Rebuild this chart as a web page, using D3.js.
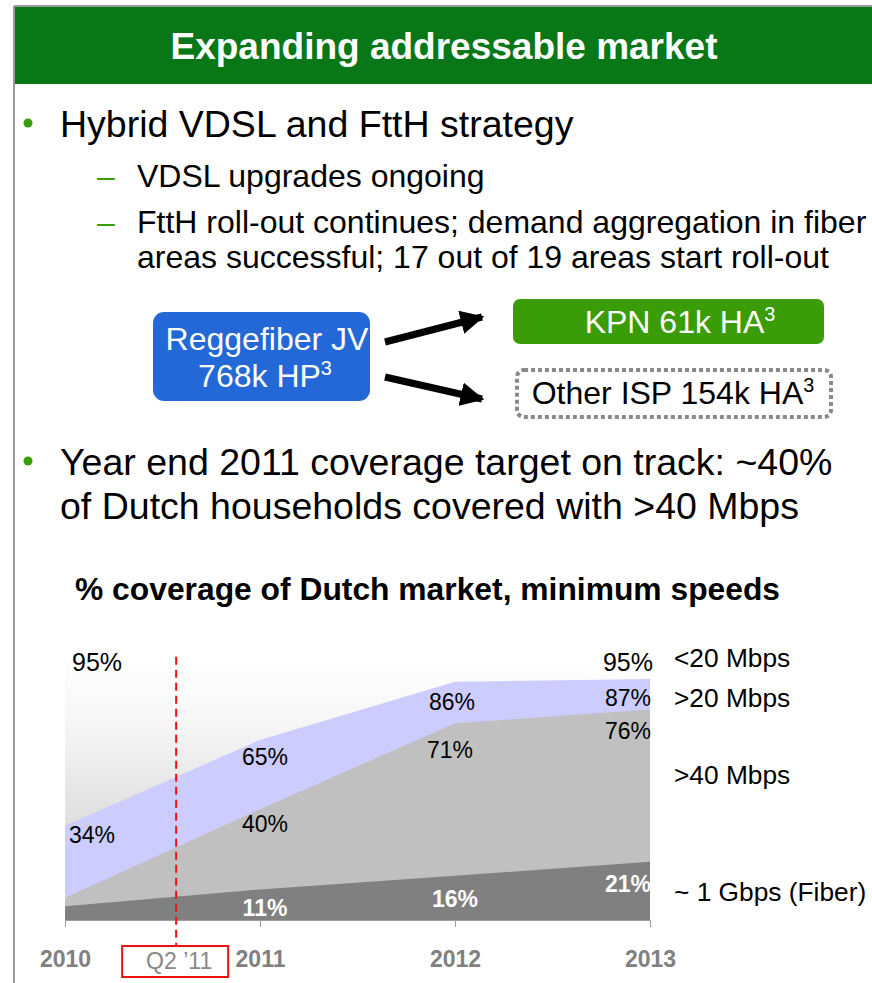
<!DOCTYPE html>
<html>
<head>
<meta charset="utf-8">
<script src="https://cdn.jsdelivr.net/npm/d3@7"></script>
<style>
  body { margin: 0; background: #fff; }
  svg { display: block; font-family: "Liberation Sans", Arial, sans-serif; }
</style>
</head>
<body>
<div id="chart"></div>
<script>
// chart data
var years = [2010, 2011, 2012, 2013];
var below20 = [95, 95, 95, 95];
var above20 = [34, 65, 86, 87];
var above40 = [8, 40, 71, 76];
var fiber = [5, 11, 16, 21];
var bandNames = ["<20 Mbps", ">20 Mbps", ">40 Mbps", "~ 1 Gbps (Fiber)"];
var yearLabels = ["2010", "2011", "2012", "2013"];
var markerYear = 2010.57;
var markerLabel = "Q2 \u201911";

var svgWidth = 872;
var svgHeight = 983;

var svg = d3.select("#chart")
  .append("svg")
  .attr("width", svgWidth)
  .attr("height", svgHeight);

var defs = svg.append("defs");

// slide frame and header
svg.append("line")
  .attr("x1", 14).attr("y1", 6).attr("x2", 14).attr("y2", svgHeight)
  .attr("stroke", "#9a9a9a").attr("stroke-width", 2);
svg.append("line")
  .attr("x1", 14).attr("y1", 6).attr("x2", svgWidth).attr("y2", 6)
  .attr("stroke", "#9a9a9a").attr("stroke-width", 2);
svg.append("rect")
  .attr("x", 15).attr("y", 7).attr("width", svgWidth - 15).attr("height", 77)
  .attr("fill", "#077718");
svg.append("text")
  .attr("x", 444).attr("y", 59)
  .attr("text-anchor", "middle")
  .attr("fill", "#fff")
  .attr("font-size", 37).attr("font-weight", "bold")
  .text("Expanding addressable market");

// bullets
var bulletGreen = "#3a9c06";
[123, 461].forEach(function(cy) {
  svg.append("circle").attr("cx", 28).attr("cy", cy).attr("r", 4.5).attr("fill", bulletGreen);
});
[187, 233].forEach(function(y) {
  svg.append("text").attr("x", 97).attr("y", y)
    .attr("font-size", 32).attr("fill", bulletGreen).text("\u2013");
});

var lines = [
  { x: 60, y: 137, size: 37.5, text: "Hybrid VDSL and FttH strategy" },
  { x: 137, y: 187, size: 32, text: "VDSL upgrades ongoing" },
  { x: 137, y: 233, size: 32, text: "FttH roll-out continues; demand aggregation in fiber" },
  { x: 137, y: 268, size: 32, text: "areas successful; 17 out of 19 areas start roll-out" },
  { x: 60, y: 475, size: 37.5, text: "Year end 2011 coverage target on track: ~40%" },
  { x: 60, y: 519, size: 37.5, text: "of Dutch households covered with >40 Mbps" }
];
svg.selectAll("text.line")
  .data(lines)
  .enter()
  .append("text")
  .attr("class", "line")
  .attr("x", d => d.x)
  .attr("y", d => d.y)
  .attr("font-size", d => d.size)
  .attr("fill", "#000")
  .text(d => d.text);

// Reggefiber boxes
function supText(sel, main, sup) {
  sel.append("tspan").text(main);
  sel.append("tspan").attr("font-size", "62%").attr("dy", -12).text(sup);
}

svg.append("rect")
  .attr("x", 153).attr("y", 312).attr("width", 217).attr("height", 89)
  .attr("rx", 11).attr("fill", "#2368d6");
svg.append("text")
  .attr("x", 267).attr("y", 350).attr("text-anchor", "middle")
  .attr("font-size", 32).attr("fill", "#fff")
  .text("Reggefiber JV");
svg.append("text")
  .attr("x", 265).attr("y", 387).attr("text-anchor", "middle")
  .attr("font-size", 32).attr("fill", "#fff")
  .call(supText, "768k HP", "3");

svg.append("rect")
  .attr("x", 513).attr("y", 299).attr("width", 311).attr("height", 45)
  .attr("rx", 7).attr("fill", "#3a9c06");
svg.append("text")
  .attr("x", 680).attr("y", 333).attr("text-anchor", "middle")
  .attr("font-size", 32).attr("fill", "#fff")
  .call(supText, "KPN 61k HA", "3");

svg.append("rect")
  .attr("x", 517).attr("y", 370).attr("width", 314).attr("height", 47)
  .attr("rx", 7).attr("fill", "none")
  .attr("stroke", "#8a8a8a").attr("stroke-width", 4)
  .attr("stroke-dasharray", "4 3");
svg.append("text")
  .attr("x", 673).attr("y", 404).attr("text-anchor", "middle")
  .attr("font-size", 32).attr("fill", "#000")
  .call(supText, "Other ISP 154k HA", "3");

defs.append("marker")
  .attr("id", "arrow")
  .attr("viewBox", "0 0 10 10")
  .attr("refX", 9).attr("refY", 5)
  .attr("markerWidth", 3.4).attr("markerHeight", 3.4)
  .attr("orient", "auto")
  .attr("markerUnits", "strokeWidth")
  .append("path")
  .attr("d", "M0,0 L10,5 L0,10 z")
  .attr("fill", "#000");

[[385, 342, 482, 317], [385, 377, 482, 399]].forEach(function(a) {
  svg.append("line")
    .attr("x1", a[0]).attr("y1", a[1]).attr("x2", a[2]).attr("y2", a[3])
    .attr("stroke", "#000").attr("stroke-width", 7)
    .attr("marker-end", "url(#arrow)");
});

// chart title
svg.append("text")
  .attr("x", 75).attr("y", 600)
  .attr("font-size", 31.8).attr("font-weight", "bold")
  .text("% coverage of Dutch market, minimum speeds");

// coverage chart
var xScale = d3.scaleLinear().domain([2010, 2013]).range([65, 650]);
var yScale = d3.scaleLinear().domain([0, 100]).range([920, 643]);

var grad = defs.append("linearGradient")
  .attr("id", "bg")
  .attr("gradientUnits", "userSpaceOnUse")
  .attr("x1", 0).attr("y1", yScale(95)).attr("x2", 0).attr("y2", yScale(0));
grad.append("stop").attr("offset", 0).attr("stop-color", "#ffffff");
grad.append("stop").attr("offset", 0.25).attr("stop-color", "#f6f6f6");
grad.append("stop").attr("offset", 1).attr("stop-color", "#c8c8c8");

var bands = [
  { values: below20, fill: "url(#bg)" },
  { values: above20, fill: "#ccccff" },
  { values: above40, fill: "#c0c0c0" },
  { values: fiber, fill: "#808080" }
];

var area = d3.area()
  .x((d, i) => xScale(years[i]))
  .y0(yScale(0))
  .y1(d => yScale(d));

var chartGroup = svg.append("g");
chartGroup.selectAll("path.band")
  .data(bands)
  .enter()
  .append("path")
  .attr("class", "band")
  .attr("d", d => area(d.values))
  .attr("fill", d => d.fill);

// x axis
var bottomAxis = d3.axisBottom(xScale)
  .tickValues(years)
  .tickFormat((d, i) => yearLabels[i])
  .tickSize(7)
  .tickPadding(24);
var axisG = chartGroup.append("g")
  .attr("transform", `translate(0, ${yScale(0)})`)
  .call(bottomAxis);
axisG.select(".domain").attr("stroke", "#a0a0a0");
axisG.selectAll(".tick line").attr("stroke", "#a0a0a0");
axisG.selectAll(".tick text")
  .attr("fill", "#808080")
  .attr("font-size", 23)
  .attr("font-weight", "bold")
  .attr("font-family", "'Liberation Sans', Arial, sans-serif");

// Q2 '11 marker
chartGroup.append("line")
  .attr("x1", xScale(markerYear)).attr("x2", xScale(markerYear))
  .attr("y1", yScale(95)).attr("y2", 946)
  .attr("stroke", "#ee1111").attr("stroke-width", 2)
  .attr("stroke-dasharray", "8 5");
chartGroup.append("rect")
  .attr("x", xScale(markerYear) - 54).attr("y", 946)
  .attr("width", 106).attr("height", 31)
  .attr("fill", "none").attr("stroke", "#ee1111").attr("stroke-width", 2);
chartGroup.append("text")
  .attr("x", xScale(markerYear) + 3).attr("y", 969)
  .attr("text-anchor", "middle")
  .attr("fill", "#888").attr("font-size", 23)
  .text(markerLabel);

// value labels: series, which points are labelled, offset below the band edge
var labelSpecs = [
  { values: below20, idx: [0, 3], dy: [14, 14], size: 25, color: "#000", weight: "normal" },
  { values: above20, idx: [0, 1, 2, 3], dy: [17, 25, 28, 27], size: 23, color: "#000", weight: "normal" },
  { values: above40, idx: [1, 2, 3], dy: [23, 35, 30], size: 23, color: "#000", weight: "normal" },
  { values: fiber, idx: [1, 2, 3], dy: [26, 31, 30], size: 23, color: "#fff", weight: "bold" }
];

labelSpecs.forEach(function(s) {
  s.idx.forEach(function(i, k) {
    var anchor = i === 0 ? "start" : (i === years.length - 1 ? "end" : "middle");
    var dx = i === 0 ? 4 : (i === years.length - 1 ? 1 : 5);
    if (s.values === below20 && i === 0) dx = 7;
    if (s.values === below20 && i === 3) dx = 3;
    if (s.values === fiber && i === 2) dx = 0;
    if (s.values === above20 && i === 2) dx = -3;
    if (s.values === above40 && i === 2) dx = -5;
    chartGroup.append("text")
      .attr("x", xScale(years[i]) + dx)
      .attr("y", yScale(s.values[i]) + s.dy[k])
      .attr("text-anchor", anchor)
      .attr("font-size", s.size)
      .attr("font-weight", s.weight)
      .attr("fill", s.color)
      .text(s.values[i] + "%");
  });
});

// band names on the right
var nameBaselines = [667, 707, 784, 901];
chartGroup.selectAll("text.band-name")
  .data(bandNames)
  .enter()
  .append("text")
  .attr("class", "band-name")
  .attr("x", 674)
  .attr("y", (d, i) => nameBaselines[i])
  .attr("font-size", 26.3)
  .attr("fill", "#000")
  .text(d => d);
</script>
</body>
</html>
